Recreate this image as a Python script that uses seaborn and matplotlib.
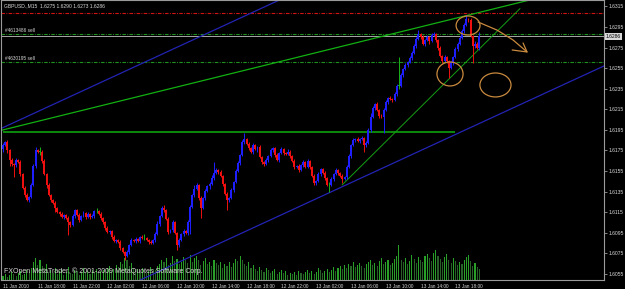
import matplotlib
matplotlib.use("Agg")
import matplotlib.pyplot as plt
import matplotlib.transforms as mtransforms
from matplotlib.patches import Ellipse
import numpy as np
import pandas as pd
import seaborn as sns

sns.set_style("dark")
plt.rcParams['font.family'] = ['Liberation Sans', 'DejaVu Sans']

# ---------------- data ----------------
symbol_title = "GBPUSD.,M15  1.6275 1.6290 1.6273 1.6286"
copyright_text = "FXOpen MetaTrader, \u00a9 2001-2009 MetaQuotes Software Corp."

first_open = 1.6176
closes = [
    1.6180, 1.6183, 1.6175, 1.6166, 1.6162, 1.6161, 1.6166, 1.6164, 1.6152, 1.6139,
    1.6132, 1.6127, 1.6130, 1.6141, 1.6160, 1.6175, 1.6174, 1.6174, 1.6165, 1.6152,
    1.6141, 1.6132, 1.6127, 1.6124, 1.6119, 1.6115, 1.6113, 1.6110, 1.6112, 1.6109,
    1.6105, 1.6103, 1.6111, 1.6117, 1.6112, 1.6107, 1.6111, 1.6114, 1.6110, 1.6113,
    1.6110, 1.6111, 1.6116, 1.6116, 1.6113, 1.6109, 1.6105, 1.6100, 1.6096, 1.6097,
    1.6091, 1.6087, 1.6088, 1.6086, 1.6080, 1.6076, 1.6072, 1.6076, 1.6083, 1.6088,
    1.6087, 1.6089, 1.6087, 1.6091, 1.6090, 1.6090, 1.6088, 1.6086, 1.6085, 1.6088,
    1.6094, 1.6104, 1.6111, 1.6119, 1.6117, 1.6108, 1.6096, 1.6098, 1.6105, 1.6095,
    1.6083, 1.6088, 1.6094, 1.6097, 1.6095, 1.6105, 1.6120, 1.6132, 1.6138, 1.6141,
    1.6129, 1.6119, 1.6129, 1.6136, 1.6140, 1.6142, 1.6148, 1.6153, 1.6156, 1.6154,
    1.6150, 1.6142, 1.6133, 1.6127, 1.6129, 1.6137, 1.6144, 1.6155, 1.6163, 1.6171,
    1.6183, 1.6186, 1.6181, 1.6177, 1.6174, 1.6180, 1.6176, 1.6178, 1.6169, 1.6164,
    1.6162, 1.6166, 1.6170, 1.6175, 1.6177, 1.6171, 1.6166, 1.6173, 1.6176, 1.6173,
    1.6172, 1.6174, 1.6170, 1.6165, 1.6159, 1.6160, 1.6156, 1.6161, 1.6164, 1.6159,
    1.6165, 1.6159, 1.6150, 1.6143, 1.6145, 1.6152, 1.6157, 1.6153, 1.6148, 1.6141,
    1.6141, 1.6147, 1.6152, 1.6156, 1.6153, 1.6150, 1.6147, 1.6149, 1.6159, 1.6170,
    1.6180, 1.6185, 1.6186, 1.6184, 1.6186, 1.6187, 1.6180, 1.6182, 1.6195, 1.6208,
    1.6216, 1.6220, 1.6214, 1.6209, 1.6208, 1.6214, 1.6222, 1.6226, 1.6225, 1.6224,
    1.6230, 1.6238, 1.6238, 1.6248, 1.6254, 1.6258, 1.6261, 1.6265, 1.6270, 1.6277,
    1.6283, 1.6288, 1.6285, 1.6279, 1.6282, 1.6285, 1.6281, 1.6287, 1.6288, 1.6282,
    1.6275, 1.6267, 1.6262, 1.6266, 1.6262, 1.6255, 1.6260, 1.6266, 1.6274, 1.6279,
    1.6284, 1.6291, 1.6297, 1.6303, 1.6302, 1.6286, 1.6277, 1.6279, 1.6275, 1.6286,
]
# wick lengths beyond the body, in pips
upper_wick_pips = [
    2, 1, 2, 1, 2, 1, 2, 1, 2, 1, 1, 2, 1, 2, 2, 3, 1, 4, 1, 2,
    1, 2, 1, 1, 2, 1, 1, 2, 1, 1, 2, 1, 2, 1, 1, 2, 1, 2, 1, 2,
    1, 2, 1, 3, 1, 2, 1, 1, 2, 1, 1, 2, 1, 1, 2, 1, 1, 2, 1, 2,
    1, 2, 1, 1, 2, 4, 1, 1, 2, 1, 2, 2, 1, 2, 3, 1, 2, 1, 2, 1,
    1, 2, 1, 2, 1, 2, 2, 1, 3, 2, 1, 2, 1, 2, 1, 2, 3, 11, 2, 1,
    2, 1, 1, 2, 1, 2, 1, 2, 2, 1, 2, 6, 1, 2, 1, 2, 1, 1, 2, 1,
    1, 2, 1, 2, 1, 1, 2, 1, 2, 1, 1, 2, 1, 1, 2, 1, 2, 1, 2, 1,
    2, 1, 1, 2, 1, 2, 1, 1, 2, 1, 3, 2, 1, 2, 1, 1, 2, 1, 2, 2,
    1, 2, 1, 2, 1, 2, 1, 2, 2, 3, 2, 1, 2, 1, 1, 2, 2, 1, 2, 1,
    2, 2, 28, 2, 1, 2, 1, 2, 2, 2, 2, 4, 1, 2, 1, 2, 1, 2, 2, 1,
    1, 2, 1, 2, 1, 1, 2, 1, 2, 1, 2, 2, 2, 4, 1, 2, 1, 2, 1, 4,
]
lower_wick_pips = [
    2, 1, 2, 6, 2, 12, 2, 1, 2, 1, 2, 1, 2, 1, 1, 2, 1, 3, 2, 1,
    2, 1, 2, 1, 4, 1, 2, 1, 2, 1, 12, 2, 1, 2, 1, 2, 1, 1, 2, 1,
    2, 1, 2, 2, 1, 2, 1, 2, 1, 2, 2, 1, 2, 1, 2, 1, 3, 1, 2, 1,
    1, 2, 1, 2, 1, 2, 1, 2, 1, 1, 2, 1, 2, 1, 2, 1, 2, 1, 2, 1,
    5, 2, 1, 2, 1, 2, 11, 1, 2, 1, 2, 10, 1, 2, 1, 2, 1, 2, 1, 2,
    1, 2, 1, 10, 2, 1, 2, 1, 1, 2, 1, 2, 1, 2, 1, 2, 1, 2, 1, 2,
    2, 1, 2, 1, 1, 2, 1, 2, 1, 2, 1, 1, 2, 1, 2, 1, 2, 1, 2, 1,
    1, 2, 1, 2, 2, 1, 2, 1, 2, 1, 6, 1, 2, 1, 2, 1, 4, 1, 2, 1,
    2, 1, 2, 1, 2, 1, 6, 2, 1, 2, 1, 2, 1, 2, 1, 16, 1, 2, 1, 2,
    1, 2, 3, 1, 2, 1, 2, 1, 2, 1, 2, 1, 2, 1, 2, 1, 2, 1, 1, 2,
    2, 1, 2, 1, 2, 10, 1, 2, 1, 2, 1, 1, 2, 1, 2, 1, 17, 2, 1, 2,
]
volumes = [
    160, 240, 120, 200, 320, 240, 160, 280, 360, 200, 240, 400, 320,
    480, 720, 880, 600, 800, 560, 480, 640,
    320, 400, 280, 480, 240, 360, 440, 200, 320, 520, 280, 240, 400, 360, 200, 320, 480, 280, 360, 240, 400, 320, 440, 280, 360,
    400, 320, 480, 560, 360, 440, 600, 520, 720, 640, 880, 800, 560, 680, 480,
    360, 440, 320, 480, 400, 280, 360, 520, 440, 400,
    560, 640, 800, 720, 880, 600, 680, 960, 760, 840, 640, 720, 920, 800, 680,
    1000, 720, 880, 960, 800, 600, 760, 880, 640, 720, 560, 800, 680, 600, 720,
    480, 640, 560, 720, 520, 680, 840, 760, 960, 800, 640, 560, 720, 480, 600,
    440, 360, 520, 400, 320, 480, 400, 280, 360, 440, 240, 320, 400, 280, 360,
    200, 280, 240, 320, 200, 360, 280, 240, 320, 400, 280, 360, 240, 320, 480, 400, 280, 360, 440, 320,
    400, 520, 360, 480, 560, 440, 600, 480, 640, 560, 720, 520, 600, 680, 560,
    480, 640, 720, 800, 600, 680, 560, 760, 880, 640, 720, 800, 600, 680, 840,
    960, 1400, 800, 720, 880, 640, 760, 1000, 840, 680, 920, 800, 720, 960, 1040,
    880, 760, 1080, 1200, 960, 840, 720, 920, 1040, 800, 680, 880, 760, 600, 720,
    640, 800, 920, 1000, 760, 560, 680, 520, 440,
]
time_labels = ["11 Jan 2010", "11 Jan 18:00", "11 Jan 22:00", "12 Jan 02:00",
               "12 Jan 06:00", "12 Jan 10:00", "12 Jan 14:00", "12 Jan 18:00",
               "12 Jan 22:00", "13 Jan 02:00", "13 Jan 06:00", "13 Jan 10:00",
               "13 Jan 14:00", "13 Jan 18:00"]
time_label_bars = [0, 16, 32, 48, 64, 80, 96, 112, 128, 144, 160, 176, 192, 208]
price_ticks = [1.6055, 1.6075, 1.6095, 1.6115, 1.6135, 1.6155, 1.6175,
               1.6195, 1.6215, 1.6235, 1.6255, 1.6275, 1.6295, 1.6315]
current_bid = 1.6286

stop_level = 1.6309
sell_orders = ["#4613486 sell", "#4630195 sell"]
sell_levels = [1.6288, 1.6261]
support_level = 1.6193
support_bars = [0, 207.8]

# trend lines: (bar, price) anchor pairs
green_ray = [(0.0, 1.6195), (237.7, 1.6319)]
blue_lower = [(86.0, 1.60715), (276.3, 1.62572)]
blue_upper = [(95.2, 1.62902), (285.4, 1.64759)]
green_thin = [(155.9, 1.61415), (237.7, 1.6313)]

# hand-drawn orange marks
circle_bars = [213.8, 205.5, 226.4]
circle_prices = [1.62965, 1.62494, 1.62387]
circle_w_bars = [11.0, 12.0, 14.3]
circle_h_price = [0.00185, 0.00233, 0.00233]
arrow_bars = [218.4, 227.1, 234.5, 240.9]
arrow_prices = [1.62999, 1.62921, 1.62824, 1.62708]
arrow_head_bars = [234.1, 240.9, 239.1]
arrow_head_prices = [1.62727, 1.62708, 1.62795]

# ---------------- derived ----------------
n = len(closes)
assert len(upper_wick_pips) == n and len(lower_wick_pips) == n and len(volumes) == n, \
    (n, len(upper_wick_pips), len(lower_wick_pips), len(volumes))
pip = 0.0001
opens = [first_open] + closes[:-1]
df = pd.DataFrame({"bar": np.arange(n), "open": opens, "close": closes,
                   "uw": upper_wick_pips, "lw": lower_wick_pips, "vol": volumes})
df["high"] = df[["open", "close"]].max(axis=1) + df["uw"] * pip
df["low"] = df[["open", "close"]].min(axis=1) - df["lw"] * pip
df["dir"] = np.where(df["close"] > df["open"] + 1e-9, "up",
                     np.where(df["close"] < df["open"] - 1e-9, "down", "flat"))
df["vdir"] = np.where(df["vol"].diff().fillna(1) > 0, "vup", "vdown")

col_map = {"up": "#1e1eff", "down": "#f01010", "flat": "#18b418"}
df["col"] = df["dir"].map(col_map)

BG = "#000000"
FG = "#d8d8d8"
SPINE = "#9a9a9a"

W, H = 625, 289
fig = plt.figure(figsize=(W / 100, H / 100), dpi=100, facecolor=BG)
rect = [1.5 / W, 9 / H, 602.5 / W, 280 / H]
xlim = (-0.69, 276.3)
ylim = (1.60491, 1.63213)

# volume layer (behind)
axv = fig.add_axes(rect)
axv.set_facecolor(BG)
sns.barplot(data=df, x="bar", y="vol", hue="vdir", dodge=False, native_scale=True,
            palette={"vup": "#14b414", "vdown": "#1d6b1d"}, width=0.5,
            errorbar=None, legend=False, linewidth=0, ax=axv)
axv.set_xlim(*xlim)
axv.set_ylim(0, max(volumes) * 8)
axv.axis("off")

# price layer
ax = fig.add_axes(rect)
ax.patch.set_alpha(0)
ax.grid(False)
ax.set_xlim(*xlim)
ax.set_ylim(*ylim)

# order / level lines
ax.axhline(stop_level, color="#d01414", lw=0.8, ls=(0, (3.2, 1.2, 0.8, 1.2)))
for lvl in sell_levels:
    ax.axhline(lvl, color="#1f8f1f", lw=0.8, ls=(0, (3.2, 1.2, 0.8, 1.2)))
ax.axhline(current_bid, color="#a8a8a8", lw=0.7)
ax.hlines(support_level, support_bars[0], support_bars[1], color="#0fa00f", lw=1.2)

# trend lines
ax.axline(green_ray[0], green_ray[1], color="#12b012", lw=0.9)
ax.axline(blue_lower[0], blue_lower[1], color="#2323b4", lw=0.9)
ax.axline(blue_upper[0], blue_upper[1], color="#2323b4", lw=0.9)
ax.plot([p[0] for p in green_thin], [p[1] for p in green_thin], color="#13a013", lw=0.7)

# candles
ax.vlines(df["bar"], df["low"], df["high"], colors=df["col"], lw=0.7, zorder=3)
body_bottom = df[["open", "close"]].min(axis=1)
body_h = (df["close"] - df["open"]).abs().clip(lower=0.00004)
ax.bar(df["bar"], body_h, bottom=body_bottom, width=0.9, color=df["col"],
       linewidth=0, zorder=4)

# hand-drawn orange annotations
ORANGE = "#c98a3e"
for cx, cy, w, h in zip(circle_bars, circle_prices, circle_w_bars, circle_h_price):
    ax.add_patch(Ellipse((cx, cy), w, h, fill=False, ec=ORANGE, lw=0.9, zorder=6))
ax.plot(arrow_bars, arrow_prices, color=ORANGE, lw=0.9, zorder=6)
ax.plot(arrow_head_bars, arrow_head_prices, color=ORANGE, lw=0.9, zorder=6)

# axes styling
for s in ax.spines.values():
    s.set_visible(True)
    s.set_color(SPINE)
    s.set_linewidth(0.8)
ax.yaxis.tick_right()
ax.set_yticks(price_ticks)
ax.set_yticklabels([f"{p:.4f}" for p in price_ticks])
ax.set_xticks(time_label_bars)
ax.set_xticklabels(time_labels, ha="left")
ax.tick_params(axis="y", direction="out", length=2, width=0.6, color=SPINE,
               labelsize=3.6, labelcolor=FG, pad=1.5)
ax.tick_params(axis="x", direction="out", length=2.5, width=0.6, color=SPINE,
               labelsize=3.4, labelcolor=FG, pad=0.6)
ax.set_xlabel("")
ax.set_ylabel("")

# order labels and current price box
blend = mtransforms.blended_transform_factory(ax.transAxes, ax.transData)
for lbl, lvl in zip(sell_orders, sell_levels):
    ax.text(0.006, lvl + 0.00012, lbl, transform=blend, color=FG, fontsize=3.4,
            va="bottom", ha="left")
ax.text(1.003, current_bid, f"{current_bid:.4f}", transform=blend, color="black",
        fontsize=3.6, va="center", ha="left",
        bbox=dict(boxstyle="square,pad=0.15", facecolor="#d8d8d8", edgecolor="none"))

fig.text(4 / W, 1 - 5.5 / H, symbol_title, color=FG, fontsize=3.6, va="center", ha="left")
fig.text(4 / W, 1 - 271 / H, copyright_text, color=FG, fontsize=5.0, va="center", ha="left")

fig.savefig("out.png", dpi=100, facecolor=BG)
